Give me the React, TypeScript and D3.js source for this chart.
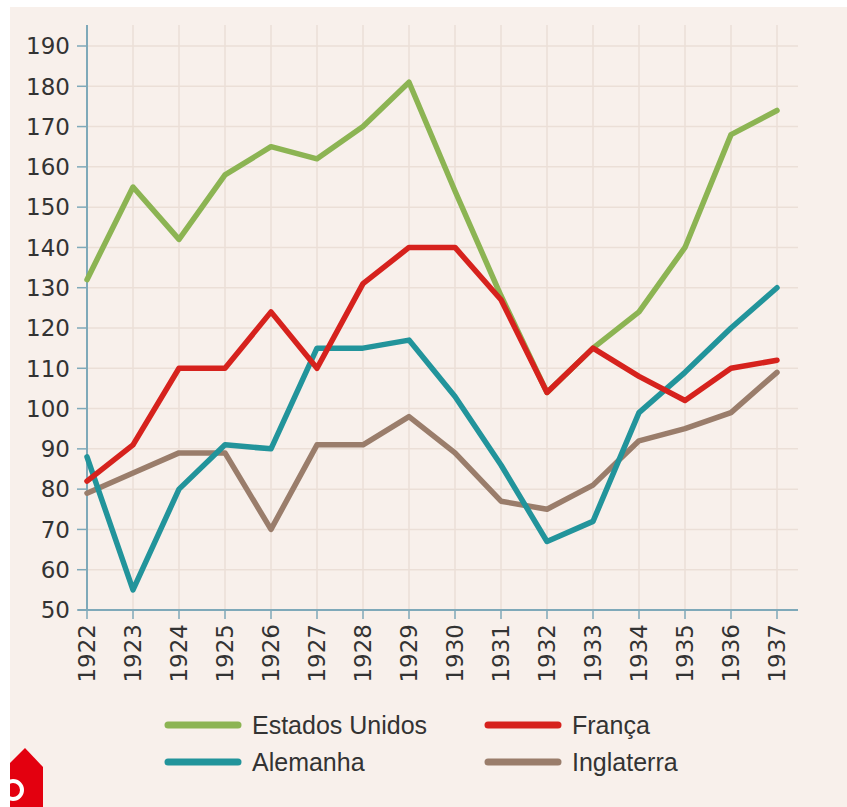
import React from 'react';
import * as d3 from 'd3';

const years = [1922, 1923, 1924, 1925, 1926, 1927, 1928, 1929, 1930, 1931, 1932, 1933, 1934, 1935, 1936, 1937];
const yTicks = [50, 60, 70, 80, 90, 100, 110, 120, 130, 140, 150, 160, 170, 180, 190];

const estadosUnidos = [132, 155, 142, 158, 165, 162, 170, 181, 154, 128, 104, 115, 124, 140, 168, 174];
const franca = [82, 91, 110, 110, 124, 110, 131, 140, 140, 127, 104, 115, 108, 102, 110, 112];
const alemanha = [88, 55, 80, 91, 90, 115, 115, 117, 103, 86, 67, 72, 99, 109, 120, 130];
const inglaterra = [79, 84, 89, 89, 70, 91, 91, 98, 89, 77, 75, 81, 92, 95, 99, 109];

const series = [
  { name: 'Estados Unidos', values: estadosUnidos, color: '#8cb453' },
  { name: 'Inglaterra', values: inglaterra, color: '#9a7d6b' },
  { name: 'Alemanha', values: alemanha, color: '#22949b' },
  { name: 'França', values: franca, color: '#d6221d' },
];

const legendItems = [
  { name: 'Estados Unidos', color: '#8cb453', col: 0, row: 0 },
  { name: 'França', color: '#d6221d', col: 1, row: 0 },
  { name: 'Alemanha', color: '#22949b', col: 0, row: 1 },
  { name: 'Inglaterra', color: '#9a7d6b', col: 1, row: 1 },
];

const W = 847;
const H = 807;

const App: React.FC = () => {
  const x = d3.scaleLinear().domain([1922, 1937]).range([87, 777]);
  const y = d3.scaleLinear().domain([50, 190]).range([610, 46]);

  const line = d3
    .line<number>()
    .x((_, i) => x(years[i]))
    .y(d => y(d));

  const axisColor = '#7fa9b9';
  const gridColor = '#ebdfd7';

  return (
    <svg width={W} height={H} style={{ position: 'absolute', left: 0, top: 0, display: 'block' }}>
      <rect x={0} y={0} width={W} height={H} fill="#ffffff" />
      <rect x={10} y={7} width={W - 10} height={H - 7} fill="#f8f0eb" />

      {/* grid */}
      {yTicks.map(t => (
        <line key={'gy' + t} x1={x(1922)} x2={798} y1={y(t)} y2={y(t)} stroke={gridColor} strokeWidth={1.5} />
      ))}
      {years.map(yr => (
        <line key={'gx' + yr} x1={x(yr)} x2={x(yr)} y1={25} y2={y(50)} stroke={gridColor} strokeWidth={1.5} />
      ))}

      {/* axes */}
      <line x1={x(1922)} x2={x(1922)} y1={25} y2={y(50)} stroke={axisColor} strokeWidth={2} />
      <line x1={78} x2={798} y1={y(50)} y2={y(50)} stroke={axisColor} strokeWidth={2} />
      {yTicks.map(t => (
        <g key={'ty' + t}>
          <line x1={77} x2={x(1922)} y1={y(t)} y2={y(t)} stroke={axisColor} strokeWidth={1.5} />
          <text
            x={70}
            y={y(t)}
            dy="0.36em"
            textAnchor="end"
            fontFamily="DejaVu Sans, sans-serif"
            fontSize={23}
            fill="#333"
          >
            {t}
          </text>
        </g>
      ))}
      {years.map(yr => (
        <g key={'tx' + yr}>
          <line x1={x(yr)} x2={x(yr)} y1={y(50)} y2={y(50) + 9} stroke={axisColor} strokeWidth={1.5} />
          <text
            transform={`translate(${x(yr)},${y(50) + 14}) rotate(-90)`}
            dy="0.36em"
            textAnchor="end"
            fontFamily="DejaVu Sans, sans-serif"
            fontSize={23}
            fill="#333"
          >
            {yr}
          </text>
        </g>
      ))}

      {/* lines */}
      {series.map(s => (
        <path
          key={s.name}
          d={line(s.values) || ''}
          fill="none"
          stroke={s.color}
          strokeWidth={5.5}
          strokeLinejoin="round"
          strokeLinecap="round"
        />
      ))}

      {/* legend */}
      {legendItems.map(it => {
        const lx = 168 + it.col * 320;
        const ly = 725 + it.row * 37;
        return (
          <g key={'lg' + it.name}>
            <line x1={lx} x2={lx + 70} y1={ly} y2={ly} stroke={it.color} strokeWidth={7} strokeLinecap="round" />
            <text x={lx + 84} y={ly} dy="0.36em" fontFamily="Liberation Sans, Arial, sans-serif" fontSize={25} fill="#333">
              {it.name}
            </text>
          </g>
        );
      })}

      {/* corner badge, cut off */}
      <clipPath id="badgeClip">
        <rect x={10} y={730} width={60} height={77} />
      </clipPath>
      <g clipPath="url(#badgeClip)">
        <path d="M25,748 L43,767 L43,807 L0,807 L0,773 Z" fill="#e3000f" />
        <circle cx={13} cy={790} r={9} fill="none" stroke="#ffffff" strokeWidth={4} />
      </g>
    </svg>
  );
};

export default App;
